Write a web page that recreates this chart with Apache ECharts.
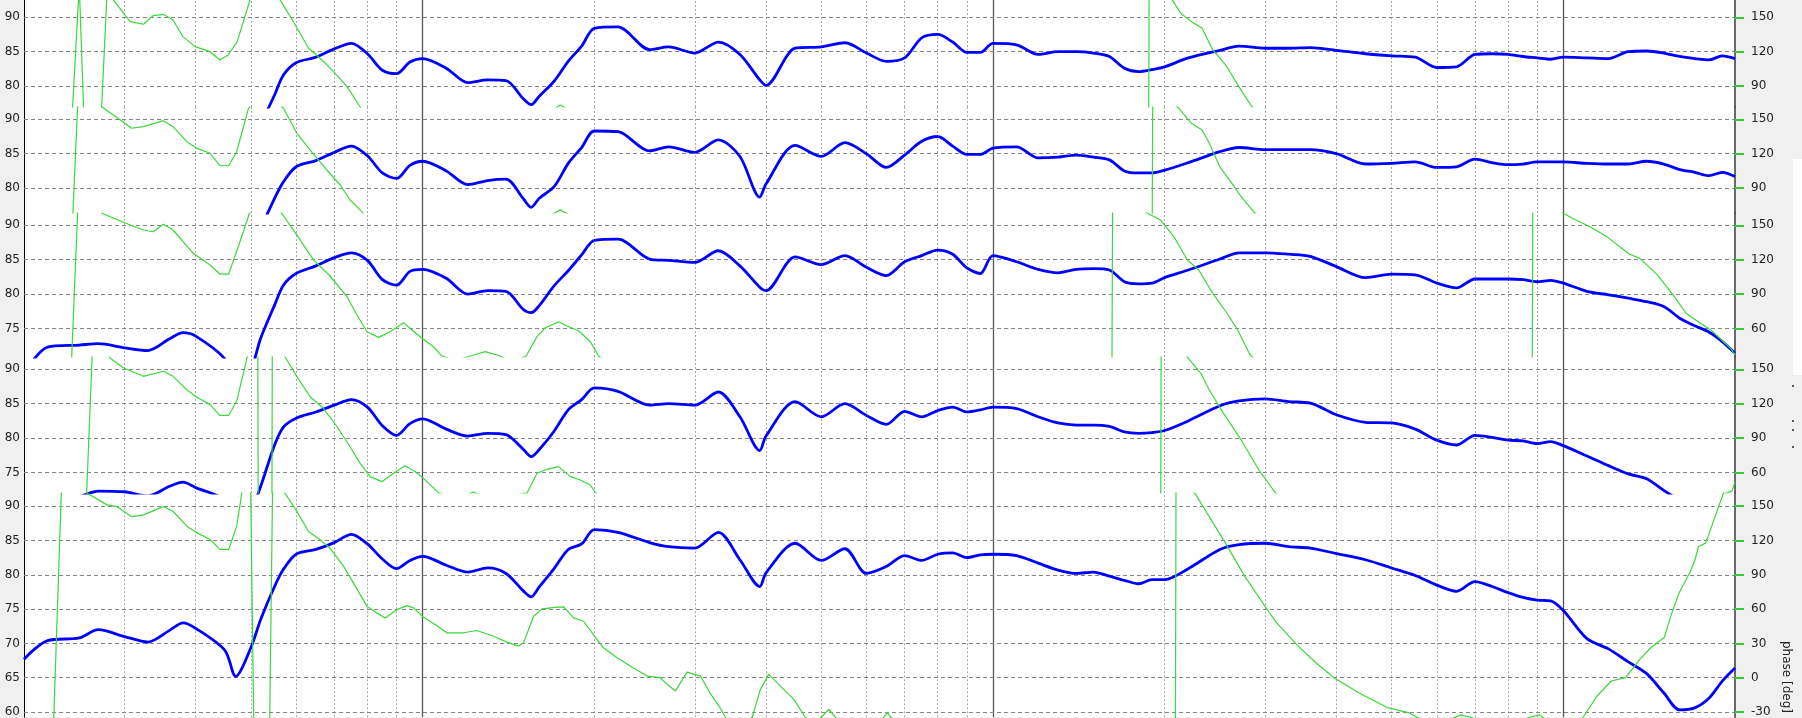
<!DOCTYPE html>
<html><head><meta charset="utf-8">
<script src="https://cdn.jsdelivr.net/npm/echarts@6/dist/echarts.min.js"></script>
<style>html,body{margin:0;padding:0;background:#f0f0f0;}#c{width:1802px;height:718px;}</style>
</head><body><div id="c"></div>
<script>
// Frequency points (Hz), shared by all magnitude curves
const freqs = [
20,22,25,27,30,33,36,38,40,45,
47,50,52,55,57,60,65,70,75,80,
85,90,95,100,110,120,130,140,150,155,
160,170,180,190,200,220,250,270,300,330,
360,390,400,450,500,550,600,650,700,750,
800,850,900,950,1000,1100,1200,1300,1400,1500,
1600,1700,1800,1900,2000,2200,2500,2700,3000,3300,
3600,4000,4500,5000,5500,6000,6500,7000,7500,8000,
8500,9000,9500,10000,11000,12000,13000,14000,15000,16000,
17000,18000,19000,20000];

// SPL (dB) for each of the five stacked panels, top to bottom
const spl1 = [
68.3,71.8,72.4,72.6,72.3,71.9,73.4,74.2,73.8,70.9,
69.5,70.0,74.3,78.7,81.6,83.4,84.2,85.4,86.2,84.7,
82.3,81.8,83.5,84.0,82.6,80.5,80.9,80.8,78.2,77.3,
78.5,80.7,83.6,85.8,88.4,88.6,85.3,85.7,84.8,86.4,
84.6,80.9,80.1,85.5,85.7,86.3,84.8,83.6,84.1,87.0,
87.5,86.4,84.9,84.9,86.2,86.0,84.6,85.0,85.0,84.8,
84.3,82.6,82.1,82.4,82.8,84.1,85.2,85.8,85.5,85.5,
85.6,85.2,84.7,84.4,84.2,82.7,82.8,84.6,84.7,84.6,
84.3,84.1,83.9,84.2,84.1,84.0,85.0,85.1,84.8,84.3,
84.0,83.8,84.4,84.0];
const spl2 = [
68.0,71.5,72.2,72.5,72.0,71.6,73.2,74.0,73.6,70.7,
69.3,69.8,74.0,78.5,80.9,83.1,84.0,85.2,86.1,84.7,
82.2,81.4,83.3,83.9,82.5,80.5,81.1,81.3,78.5,77.2,
78.5,80.2,83.6,85.9,88.3,88.2,85.4,86.0,85.2,87.0,
84.6,78.7,80.6,86.2,84.6,86.6,85.0,83.0,84.8,86.8,
87.5,86.1,84.9,84.9,85.8,86.0,84.4,84.5,84.8,84.5,
84.1,82.5,82.2,82.2,82.6,83.7,85.3,85.9,85.6,85.6,
85.6,85.0,83.5,83.6,83.8,83.0,83.1,84.2,83.7,83.4,
83.5,83.8,83.8,83.8,83.6,83.5,83.5,83.9,83.5,82.7,
82.3,81.8,82.3,81.7];
const spl3 = [
68.5,72.3,72.6,72.8,72.2,71.8,73.5,74.4,73.9,70.6,
67.0,69.2,73.6,78.4,81.3,83.0,84.1,85.3,86.0,84.9,
82.1,81.3,83.3,83.6,82.3,80.0,80.5,80.4,77.8,77.3,
78.3,81.2,83.4,85.7,87.8,88.0,85.1,84.9,84.6,86.3,
84.1,81.0,80.5,85.4,84.3,85.6,83.9,82.7,84.7,85.6,
86.4,85.8,83.8,83.0,85.6,84.7,83.6,83.1,83.6,83.7,
83.5,81.8,81.5,81.6,82.4,83.5,85.1,86.0,86.0,85.8,
85.5,84.0,82.4,82.9,82.8,81.6,80.9,82.2,82.2,82.2,
82.1,81.8,82.0,81.6,80.4,79.9,79.4,78.9,78.2,76.5,
75.4,74.5,73.1,71.4];
const spl4 = [
69.5,70.5,71.5,72.3,72.2,71.6,73.0,73.6,72.8,71.0,
67.5,69.5,73.0,79.0,81.6,82.9,83.8,84.8,85.6,84.5,
81.8,80.4,82.1,82.8,81.3,80.3,80.7,80.5,78.4,77.3,
78.3,81.0,84.1,85.6,87.3,86.8,84.8,85.0,84.8,86.7,
83.1,78.2,80.3,85.3,83.1,85.0,83.3,82.0,83.9,83.1,
84.0,84.5,83.8,84.1,84.5,84.3,83.1,82.2,81.9,81.9,
81.7,80.9,80.7,80.8,81.1,82.5,84.7,85.4,85.7,85.3,
85.1,83.4,82.3,82.2,81.3,79.7,79.0,80.4,80.1,79.7,
79.6,79.2,79.5,78.9,77.4,76.0,74.8,74.1,72.4,71.0,
70.2,69.5,69.0,68.5];
const spl5 = [
67.7,70.4,70.8,72.0,71.0,70.2,71.9,73.0,72.2,69.0,
65.2,69.4,73.5,78.3,80.8,83.0,83.7,84.7,85.9,84.5,
82.3,80.9,82.1,82.7,81.4,80.4,81.0,80.2,77.7,76.8,
78.2,80.9,83.7,84.5,86.6,86.2,84.7,84.1,83.9,86.2,
82.2,78.3,80.3,84.6,82.1,83.8,80.2,81.2,82.8,82.1,
83.0,83.2,82.5,82.9,83.0,82.8,81.7,80.7,80.2,80.4,
79.8,79.2,78.7,79.3,79.3,80.9,83.7,84.4,84.6,84.1,
83.9,83.1,82.2,81.0,79.9,78.5,77.6,79.0,78.3,77.4,
76.7,76.3,76.2,74.8,70.7,69.2,67.3,65.6,62.8,60.3,
60.6,62.0,64.5,66.4];

// Phase (deg) as [frequency Hz, phase] for each panel (wrapped, with jumps)
const phase1 = [[20,30],[22.2,45],[24.3,66],[25.0,178],[25.5,55],[26.6,40],[27.3,60],[28.0,178],[28.7,165],
[30.7,146.2],[32.4,143.9],[33.7,151.4],[35.1,152.6],[36.5,147.6],[38.0,133.1],[39.9,124.4],[42.4,120],
[44.1,112.8],[45.6,117.1],[47.3,128.7],[49.8,165],[52.9,178],[56.3,165],[59.5,145],[63.1,123],[66.1,114.3],
[69.8,102.6],[73.7,89.5],[77.7,71.8],[83.6,52],[87.7,57],[92.5,65],[95.9,59],[104.4,44],[116.4,38],
[128.8,40],[142.4,32],[158.9,55],[167.4,68],[174.3,73.5],[181.6,68],[196.8,48],[222,20],[261,0],[333,-25],
[460,-40],[689,-70],[1031,-100],[1544,-150],[1867,-180],[1879,180],[2064,165],[2134,153.5],[2228,146.2],
[2326,140.4],[2429,121.5],[2572,106.9],[2686,91.1],[2844,72],[3195,45],[4240,-10],[6351,-60],[9512,-120],
[14244,-150],[20000,-170]];
const phase2 = [[20,30],[24.3,55],[24.9,175],[26.1,178],[27.4,160.7],[28.7,153.7],[30.9,142.2],[32.4,143.6],
[35.1,148.8],[36.5,143.6],[38.6,130.5],[40.2,124.7],[42.4,120.4],[44.1,109.5],[45.7,109.5],[47.2,121.7],
[49.5,159.6],[52.9,175],[57.0,159.6],[60.2,137.8],[63.5,123.2],[67.9,105.8],[71.7,92.7],[74.6,79.6],
[78.3,69.2],[83.6,52],[92.5,62],[104.4,44],[128.8,40],[158.9,55],[167.4,66],[174.3,71],[181.6,66],
[196.8,48],[222,20],[261,0],[333,-25],[460,-40],[689,-70],[1031,-100],[1544,-150],[1894,-180],[1906,180],
[2118,159.6],[2228,146.5],[2326,140.7],[2395,129.1],[2498,108.7],[2610,95.6],[2724,82.5],[2864,69.4],
[3195,45],[4240,-10],[6351,-60],[9512,-120],[14244,-150],[20000,-170]];
const phase3 = [[20,10],[24.2,25],[24.9,175],[26.1,178],[27.4,160.5],[30.7,150.3],[32.4,145.9],[33.7,144.4],
[35.1,150.9],[36.5,145.9],[39.6,125.6],[42.4,115.4],[44.1,107.5],[45.7,107.5],[47.5,131.3],[49.7,160.5],
[52.9,175],[56.6,160.5],[60.2,141.5],[64.4,119.7],[68.8,105.8],[73.7,87.7],[76.7,71.8],[79.9,57.2],
[83.7,52.3],[87.7,57.2],[92.6,65.1],[95.8,58.7],[100.3,50.6],[104.5,44.1],[108.1,36.0],[114.1,32],
[122.8,36.9],[128.8,39.8],[136.8,36.0],[143.6,30],[151.9,36],[158.7,52.9],[164.1,60.7],[173.2,65.9],
[179.2,62.2],[187.7,58.1],[196.8,48.5],[203.5,36],[222,20],[261,0],[333,-25],[460,-40],[689,-70],
[1031,-110],[1611,-180],[1621,180],[1865,160.5],[1968,154.6],[2076,140],[2192,120],[2294,111],[2429,90.7],
[2572,73.3],[2686,58.7],[2824,36.9],[3195,10],[4240,-40],[6351,-100],[8790,-180],[8843,180],[10000,160.5],
[10368,156.1],[11136,148.8],[11966,139.5],[13044,125],[13620,121.2],[14630,106.6],[15500,90.7],
[16416,73.3],[17384,64.5],[18154,58.7],[18952,50],[19640,42.7],[20000,37.5]];
const phase4 = [[20,0],[25.7,30],[26.4,175],[27.2,178],[28.3,159.9],[29.9,151.1],[32.4,143.9],[35.1,148.3],
[36.5,143.9],[38.6,132.2],[40.2,125.6],[42.4,119.2],[44.1,109.9],[45.7,109.9],[47.2,122.1],[49.2,159.9],
[50.2,172],[51.4,179],[51.6,-179],[52.9,-175],[54.3,-179],[54.5,179],[55.8,172],[57.4,160.7],[60.2,143.6],
[63.5,126.1],[67.0,116],[70.8,99.9],[74.6,82.5],[77.7,68],[80.9,56.4],[84.8,52],[88.9,59.3],[93.2,65.9],
[97.1,60.7],[100.3,54.9],[106.6,42.4],[114.1,36],[122.7,43],[131.4,36],[152.4,42.2],[158.7,59.3],
[165.2,62.8],[173.2,65.1],[181.6,56.4],[189.0,53.5],[196.8,49.1],[200.8,42.4],[222,20],[261,0],[333,-25],
[460,-40],[689,-70],[1031,-110],[1963,-180],[1972,180],[2192,160.7],[2314,146.5],[2395,132],[2536,111.6],
[2724,88.4],[2926,62.2],[3123,42.7],[3466,20],[4240,-10],[5859,-30],[8092,-30],[11182,-20],[13680,10],
[17436,30],[18902,40],[19758,44],[20000,52]];
const phase5 = [[20,-60],[22.5,-50],[23.3,175],[24.6,178],[25.8,161.6],[27.9,151.4],[29.1,149.7],[30.9,140.9],
[32.4,142.4],[35.1,149.7],[36.5,145.6],[38.6,132.6],[40.2,126.7],[42.4,120.9],[44.1,112.2],[45.7,112.2],
[47.2,132.6],[48.2,161.6],[49.0,175],[49.9,179],[51.0,-179],[51.9,-175],[53.5,-179],[54.6,179],[55.8,172],
[57.4,161.3],[60.2,145.3],[63.1,127.9],[66.1,120.6],[68.8,113.4],[72.7,97.3],[76.2,79.9],[79.9,62.4],
[83.1,56.7],[86.0,52.3],[90.1,59.6],[93.9,63.1],[96.4,61.1],[100.3,52.9],[104.5,47.4],[110.3,39.3],
[118.0,39.3],[124.5,41.3],[133.2,36.3],[140.6,31.1],[147.3,27.6],[150.3,30.5],[156.5,53.7],[161.9,60.2],
[170.9,61.6],[176.7,61.9],[183.9,52.3],[191.5,49.4],[202.2,33.4],[207.6,26.2],[219.2,17.5],[231.4,10.1],
[247.6,1.4],[261,0],[268.3,-5.8],[277.4,-11.7],[290.8,4.9],[307,1.4],[319.6,-14],[333,-27],[339.6,-34.8],
[360.8,-45],[378.2,-34.8],[391,-10.2],[404.4,2.9],[432.6,-11.7],[447.4,-18.9],[469,-34.8],[488.4,-40],
[515.4,-27.6],[540.4,-40],[610,-50],[652.6,-30.5],[689,-45],[1031,-80],[1544,-120],[2086,-180],[2094,180],
[2260,161.3],[2536,120.6],[2764,88.6],[3012,61],[3144,48],[3428,27.6],[3684,13.1],[3960,0],[4378,-13.1],
[4910,-26.1],[5352,-30.5],[5546,-34.8],[6100,-40],[6614,-32.5],[7026,-36],[7772,-42],[9062,-32.5],
[9906,-45],[10524,-40],[10824,-34.8],[11460,-16],[12140,-2.9],[12858,0],[13620,16],[14244,26.4],
[15030,35.2],[15500,56.7],[15954,74.1],[16656,91.6],[17018,103.2],[17258,114.8],[17760,117.7],
[18286,135.2],[19092,161.6],[20000,180]];

// Tick labels
const splTicks = [[80,85,90],[80,85,90],[75,80,85,90],[75,80,85,90],[60,65,70,75,80,85,90]];
const phaseTicks = [[90,120,150],[90,120,150],[60,90,120,150],[60,90,120,150],[-30,0,30,60,90,120,150]];
const minorFreqs = [30,40,50,60,70,80,90,200,300,400,500,600,700,800,900,2000,3000,4000,5000,6000,7000,8000,9000];
const decadeFreqs = [100,1000,10000];

// Panel layout (pixels) and visible dB window of each panel
const panels = [
  {top:0,   height:107, dbMin:76.96, dbMax:92.51},
  {top:107, height:106, dbMin:76.38, dbMax:91.79},
  {top:213, height:144, dbMin:70.86, dbMax:91.79},
  {top:357, height:136, dbMin:72.02, dbMax:91.79},
  {top:493, height:225, dbMin:59.23, dbMax:91.93}
];
const splSets = [spl1, spl2, spl3, spl4, spl5];
const phaseSets = [phase1, phase2, phase3, phase4, phase5];
const toPhase = v => 150 + (v - 90) * 6;

const FONT = 'DejaVu Sans';
const grid = [], xAxis = [], yAxis = [], series = [];
panels.forEach((p, i) => {
  grid.push({left:24, right:67, top:p.top, height:p.height, show:true, backgroundColor:'#ffffff', borderWidth:0});
  xAxis.push({type:'log', logBase:10, gridIndex:i, min:20, max:20000, show:false});
  yAxis.push({
    type:'value', gridIndex:i, position:'left', min:p.dbMin, max:p.dbMax,
    axisLine:{show:true, onZero:false, lineStyle:{color:'#000000', width:1}},
    axisTick:{show:false}, splitLine:{show:false},
    axisLabel:{customValues:splTicks[i], margin:4, color:'#222228', fontSize:12, fontFamily:FONT}
  });
  yAxis.push({
    type:'value', gridIndex:i, position:'right', min:toPhase(p.dbMin), max:toPhase(p.dbMax),
    axisLine:{show:true, onZero:false, lineStyle:{color:'#3a3a3a', width:1.5}},
    axisTick:{show:true, customValues:phaseTicks[i], length:9, inside:false, lineStyle:{color:'#33cc33', width:2}},
    splitLine:{show:false},
    axisLabel:{customValues:phaseTicks[i], margin:16, color:'#222228', fontSize:12, fontFamily:FONT}
  });
  const lines = [];
  minorFreqs.forEach(f => lines.push({xAxis:f, lineStyle:{color:'#a8a8a8', width:1, type:[2,2]}}));
  decadeFreqs.forEach(f => lines.push({xAxis:f, lineStyle:{color:'#555555', width:1.3, type:'solid'}}));
  splTicks[i].forEach(v => lines.push({yAxis:v, lineStyle:{color:'#858585', width:1, type:[4,3]}}));
  series.push({
    type:'line', xAxisIndex:i, yAxisIndex:2*i, z:3, silent:true, animation:false,
    showSymbol:false, symbol:'none', clip:true, smooth:0.3,
    lineStyle:{color:'#0000ff', width:2.8},
    data: freqs.map((f, k) => [f, splSets[i][k]]),
    markLine:{silent:true, z:1, symbol:['none','none'], animation:false, label:{show:false},
      emphasis:{disabled:true}, data:lines}
  });
  series.push({
    type:'line', xAxisIndex:i, yAxisIndex:2*i+1, z:4, silent:true, animation:false,
    showSymbol:false, symbol:'none', clip:true,
    lineStyle:{color:'#3ad83a', width:1.2},
    data: phaseSets[i]
  });
});

const chart = echarts.init(document.getElementById('c'), null, {renderer:'canvas'});
chart.setOption({
  backgroundColor:'#f0f0f0',
  animation:false,
  grid, xAxis, yAxis, series,
  graphic:[
    {type:'rect', shape:{x:1793, y:159, width:9, height:216}, style:{fill:'#ffffff'}, silent:true},
    {type:'rect', shape:{x:1792, y:385, width:2, height:2}, style:{fill:'#556'}, silent:true},
    {type:'rect', shape:{x:1792, y:420, width:2, height:2}, style:{fill:'#556'}, silent:true},
    {type:'rect', shape:{x:1792, y:429, width:2, height:2}, style:{fill:'#556'}, silent:true},
    {type:'rect', shape:{x:1792, y:446, width:2, height:2}, style:{fill:'#556'}, silent:true},
    {type:'text', x:1786, y:677, rotation:-Math.PI/2, silent:true,
      style:{text:'phase [deg]', fill:'#222228', font:'12px ' + FONT, align:'center', verticalAlign:'middle'}}
  ]
});
</script>
</body></html>
